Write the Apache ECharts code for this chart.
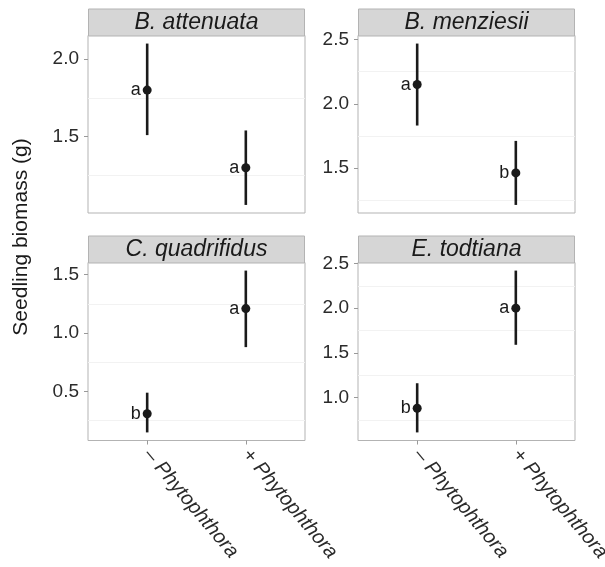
<!DOCTYPE html>
<html>
<head>
<meta charset="utf-8">
<script src="https://cdn.jsdelivr.net/npm/echarts@6/dist/echarts.min.js"></script>
<style>html,body{margin:0;padding:0;background:#fff;}#c{width:605px;height:567px;}</style>
</head>
<body>
<div id="c"></div>
<script>
// ---- data ----
const species = ['B. attenuata', 'B. menziesii', 'C. quadrifidus', 'E. todtiana'];
const treatments = ['– Phytophthora', '+ Phytophthora'];
const treatmentPos = [1, 2];
const means = [[1.80, 1.30], [2.15, 1.46], [0.31, 1.21], [0.88, 2.00]];
const lower = [[1.51, 1.06], [1.83, 1.21], [0.15, 0.88], [0.61, 1.59]];
const upper = [[2.10, 1.54], [2.47, 1.71], [0.49, 1.535], [1.16, 2.42]];
const letters = [['a', 'a'], ['a', 'b'], ['b', 'a'], ['b', 'a']];
const yTicks = [[1.5, 2.0], [1.5, 2.0, 2.5], [0.5, 1.0, 1.5], [1.0, 1.5, 2.0, 2.5]];
const yMinorGrid = [[1.25, 1.75], [1.25, 1.75, 2.25], [0.25, 0.75, 1.25], [0.75, 1.25, 1.75, 2.25]];
const yTitle = 'Seedling biomass (g)';

// ---- layout ----
const FONT = 'Liberation Sans, Arial, sans-serif';
const panels = [
  {left: 88, top: 35.5, width: 217, height: 177.5},
  {left: 358, top: 35.5, width: 217, height: 177.5},
  {left: 88, top: 262.5, width: 217, height: 178},
  {left: 358, top: 262.5, width: 217, height: 178}
];
const stripH = 27;

const grid = [], xAxis = [], yAxis = [], series = [], graphic = [];
panels.forEach((p, i) => {
  const bottomRow = i >= 2;
  grid.push({left: p.left, top: p.top, width: p.width, height: p.height,
    show: true, borderColor: '#b3b3b3', borderWidth: 1, backgroundColor: '#fff',
    containLabel: false, outerBoundsMode: 'none'});
  xAxis.push({
    type: 'value', gridIndex: i, min: 0.4, max: 2.6,
    axisLine: {show: false}, splitLine: {show: false},
    axisTick: {show: bottomRow, customValues: treatmentPos, length: 4, lineStyle: {color: '#999'}},
    axisLabel: {show: bottomRow, customValues: treatmentPos, rotate: -50, margin: 11,
      fontSize: 20, fontStyle: 'italic', fontFamily: FONT, color: '#2b2b2b',
      formatter: v => treatments[treatmentPos.indexOf(Math.round(v))] || ''}
  });
  const lo = Math.min(...lower[i]), hi = Math.max(...upper[i]);
  const pad = (hi - lo) * 0.05;
  yAxis.push({
    type: 'value', gridIndex: i, min: lo - pad, max: hi + pad,
    axisLine: {show: false}, splitLine: {show: false},
    axisTick: {show: true, customValues: yTicks[i], length: 4, lineStyle: {color: '#999'}},
    axisLabel: {customValues: yTicks[i], fontSize: 19, fontFamily: FONT, color: '#2b2b2b', margin: 9,
      formatter: v => v.toFixed(1)}
  });
  // faint minor grid lines
  series.push({
    type: 'line', xAxisIndex: i, yAxisIndex: i, silent: true, z: 1, data: [],
    markLine: {
      silent: true, symbol: ['none', 'none'], label: {show: false}, animation: false, z: 1,
      lineStyle: {color: '#f2f2f2', width: 1, type: 'solid'},
      emphasis: {disabled: true},
      data: yMinorGrid[i].map(v => ({yAxis: v}))
    }
  });
  // error bars
  series.push({
    type: 'custom', xAxisIndex: i, yAxisIndex: i, silent: true, z: 3,
    data: treatmentPos.map((x, j) => [x, lower[i][j], upper[i][j]]),
    renderItem: (params, api) => {
      const a = api.coord([api.value(0), api.value(1)]);
      const b = api.coord([api.value(0), api.value(2)]);
      return {type: 'line', shape: {x1: a[0], y1: a[1], x2: b[0], y2: b[1]},
        style: {stroke: '#1a1a1a', lineWidth: 2.6}};
    }
  });
  // points with letters
  series.push({
    type: 'scatter', xAxisIndex: i, yAxisIndex: i, silent: true, z: 4,
    symbol: 'circle', symbolSize: 9,
    itemStyle: {color: '#1a1a1a', opacity: 1},
    data: treatmentPos.map((x, j) => [x, means[i][j], letters[i][j]]),
    label: {show: true, position: 'left', distance: 2, fontSize: 18, fontFamily: FONT, color: '#1a1a1a',
      formatter: p => p.value[2]}
  });
  // strip
  graphic.push({type: 'rect', silent: true,
    shape: {x: p.left + 0.5, y: p.top - stripH + 0.5, width: p.width - 1, height: stripH},
    style: {fill: '#d6d6d6', stroke: '#b3b3b3', lineWidth: 1}});
  graphic.push({type: 'text', silent: true, x: p.left + p.width / 2, y: p.top - stripH / 2 + 0.5,
    style: {text: species[i], fontSize: 23, fontStyle: 'italic', fontFamily: FONT, fill: '#1a1a1a',
      textAlign: 'center', textVerticalAlign: 'middle'}});
});
graphic.push({type: 'text', silent: true, x: 21, y: 237, rotation: Math.PI / 2,
  style: {text: yTitle, fontSize: 21, fontFamily: FONT, fill: '#1a1a1a',
    textAlign: 'center', textVerticalAlign: 'middle'}});

const chart = echarts.init(document.getElementById('c'), null, {renderer: 'canvas'});
chart.setOption({animation: false, backgroundColor: '#fff', grid, xAxis, yAxis, series, graphic});
</script>
</body>
</html>
